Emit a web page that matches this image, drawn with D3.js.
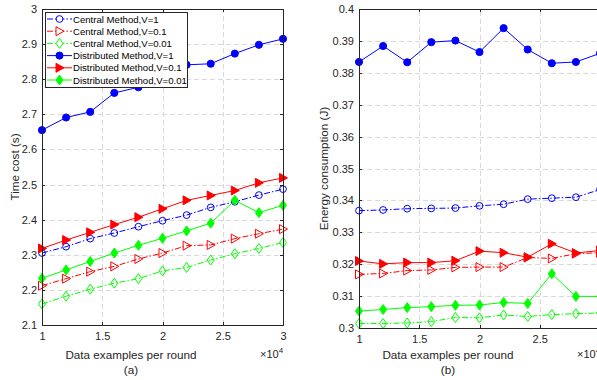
<!DOCTYPE html>
<meta charset="utf-8">
<style>
body { margin: 0; background: #fff; font-family: "Liberation Sans", Arial, sans-serif; }
.axis path, .axis line { fill: none; stroke: #262626; stroke-width: 1; shape-rendering: crispEdges; }
.axis text { fill: #262626; font-size: 11px; }
.grid line { stroke: #d9d9d9; stroke-dasharray: 5,3; shape-rendering: crispEdges; }
.grid path { display: none; }
</style>
<body>
<script src="https://d3js.org/d3.v7.min.js"></script>
<script>

// x values (data examples per round)
var xs = [10000, 12000, 14000, 16000, 18000, 20000, 22000, 24000, 26000, 28000, 30000];

// (a) time cost
var timeCentralV1   = [2.305, 2.323, 2.346, 2.362, 2.380, 2.397, 2.413, 2.435, 2.451, 2.470, 2.487];
var timeCentralV01  = [2.212, 2.232, 2.252, 2.267, 2.288, 2.305, 2.326, 2.328, 2.346, 2.360, 2.373];
var timeCentralV001 = [2.160, 2.182, 2.202, 2.219, 2.232, 2.254, 2.264, 2.285, 2.303, 2.318, 2.335];
var timeDistV1      = [2.655, 2.691, 2.707, 2.761, 2.777, 2.808, 2.841, 2.844, 2.873, 2.898, 2.915];
var timeDistV01     = [2.318, 2.342, 2.364, 2.386, 2.407, 2.431, 2.455, 2.469, 2.483, 2.505, 2.519];
var timeDistV001    = [2.233, 2.257, 2.281, 2.305, 2.327, 2.347, 2.368, 2.390, 2.455, 2.420, 2.441];

// (b) energy consumption
var energyCentralV1   = [0.3368, 0.3370, 0.3374, 0.3375, 0.3376, 0.3383, 0.3388, 0.3404, 0.3407, 0.3410, 0.3434];
var energyCentralV01  = [0.3168, 0.3171, 0.3180, 0.3182, 0.3190, 0.3191, 0.3191, 0.3221, 0.3218, 0.3233, 0.3236];
var energyCentralV001 = [0.3014, 0.3014, 0.3016, 0.3020, 0.3033, 0.3032, 0.3041, 0.3036, 0.3042, 0.3045, 0.3047];
var energyDistV1      = [0.3834, 0.3884, 0.3833, 0.3896, 0.3901, 0.3865, 0.3940, 0.3873, 0.3830, 0.3834, 0.3861];
var energyDistV01     = [0.3210, 0.3201, 0.3205, 0.3205, 0.3211, 0.3241, 0.3236, 0.3222, 0.3264, 0.3235, 0.3243];
var energyDistV001    = [0.3053, 0.3058, 0.3064, 0.3067, 0.3071, 0.3072, 0.3080, 0.3077, 0.3170, 0.3099, 0.3099];

var seriesNames = ["Central Method,V=1", "Central Method,V=0.1", "Central Method,V=0.01",
                   "Distributed Method,V=1", "Distributed Method,V=0.1", "Distributed Method,V=0.01"];
var xTicks = [10000, 15000, 20000, 25000, 30000];
var timeTicks = [2.1, 2.2, 2.3, 2.4, 2.5, 2.6, 2.7, 2.8, 2.9, 3];
var energyTicks = [0.3, 0.31, 0.32, 0.33, 0.34, 0.35, 0.36, 0.37, 0.38, 0.39, 0.4];

// style per series: colour, marker, filled, dashed
var styles = [
    {color: "#0000ff", marker: "circle",   filled: false, dash: "6,2,1.5,2"},
    {color: "#ff0000", marker: "triangle", filled: false, dash: "6,2,1.5,2"},
    {color: "#00ff00", marker: "diamond",  filled: false, dash: "6,2,1.5,2"},
    {color: "#0000ff", marker: "circle",   filled: true,  dash: null},
    {color: "#ff0000", marker: "triangle", filled: true,  dash: null},
    {color: "#00ff00", marker: "diamond",  filled: true,  dash: null}
];

var svg = d3.select("body").append("svg")
    .attr("width", 597)
    .attr("height", 380);

function markerPath(type, filled) {
    if (type === "circle") return d3.symbol(d3.symbolCircle, filled ? 40 : 36)();
    if (type === "triangle") return "M-3.5,-4.5L4.5,0L-3.5,4.5Z";
    return "M0,-5L3.5,0L0,5L-3.5,0Z";
}

function drawPanel(opt) {
    var x = d3.scaleLinear().domain([10000, 30000]).range([opt.left, opt.right]);
    var y = d3.scaleLinear().domain(opt.domain).range([opt.bottom, opt.top]);
    var w = opt.right - opt.left, h = opt.bottom - opt.top;

    var clipId = "clip" + opt.id;
    svg.append("clipPath").attr("id", clipId)
      .append("rect").attr("x", opt.left - 8).attr("y", opt.top - 8)
        .attr("width", w + 16).attr("height", h + 16);

    // grid
    svg.append("g").attr("class", "grid")
        .attr("transform", "translate(0," + opt.bottom + ")")
        .call(d3.axisBottom(x).tickValues(xTicks).tickSize(-h).tickFormat(""));
    svg.append("g").attr("class", "grid")
        .attr("transform", "translate(" + opt.left + ",0)")
        .call(d3.axisLeft(y).tickValues(opt.ticks).tickSize(-w).tickFormat(""));

    // series
    var line = d3.line().x(function(d, i) { return x(xs[i]); }).y(function(d) { return y(d); });
    var plot = svg.append("g").attr("clip-path", "url(#" + clipId + ")");
    opt.series.forEach(function(vals, k) {
        var s = styles[k];
        plot.append("path")
            .attr("d", line(vals))
            .attr("fill", "none")
            .attr("stroke", s.color)
            .attr("stroke-width", 1)
            .attr("stroke-dasharray", s.dash);
        plot.selectAll(null).data(vals).enter().append("path")
            .attr("transform", function(d, i) { return "translate(" + x(xs[i]) + "," + y(d) + ")"; })
            .attr("d", markerPath(s.marker, s.filled))
            .attr("fill", s.filled ? s.color : "none")
            .attr("stroke", s.color)
            .attr("stroke-width", 1);
    });

    // axes box
    svg.append("g").attr("class", "axis")
        .attr("transform", "translate(0," + opt.bottom + ")")
        .call(d3.axisBottom(x).tickValues(xTicks).tickSize(-3).tickPadding(7)
            .tickFormat(function(d) { return d3.format("")(d / 10000); }));
    svg.append("g").attr("class", "axis")
        .attr("transform", "translate(" + opt.left + ",0)")
        .call(d3.axisLeft(y).tickValues(opt.ticks).tickSize(-3).tickPadding(5)
            .tickFormat(d3.format("")));
    svg.append("g").attr("class", "axis")
        .attr("transform", "translate(0," + opt.top + ")")
        .call(d3.axisTop(x).tickValues(xTicks).tickSize(-3).tickFormat(""));
    svg.append("g").attr("class", "axis")
        .attr("transform", "translate(" + opt.right + ",0)")
        .call(d3.axisRight(y).tickValues(opt.ticks).tickSize(-3).tickFormat(""));

    // labels
    var cx = opt.left + 89;
    svg.append("text")
        .attr("x", cx).attr("y", 359)
        .attr("text-anchor", "middle")
        .style("font-size", "11.7px").style("fill", "#262626")
        .text("Data examples per round");
    svg.append("text")
        .attr("x", cx).attr("y", 374)
        .attr("text-anchor", "middle")
        .style("font-size", "11.7px").style("fill", "#262626")
        .text(opt.caption);
    var exp = svg.append("text")
        .attr("x", opt.right - 23).attr("y", 358)
        .style("font-size", "11px").style("fill", "#262626");
    exp.append("tspan").text("\u00d710");
    exp.append("tspan").attr("dy", -5).style("font-size", "8px").text("4");
    svg.append("text")
        .attr("transform", "translate(" + opt.ylabelX + "," + ((opt.top + opt.bottom) / 2) + ") rotate(-90)")
        .attr("text-anchor", "middle")
        .style("font-size", "11.7px").style("fill", "#262626")
        .text(opt.ylabel);
}

drawPanel({
    id: "a", left: 42, right: 283, top: 9, bottom: 325,
    domain: [2.1, 3], ticks: timeTicks,
    series: [timeCentralV1, timeCentralV01, timeCentralV001, timeDistV1, timeDistV01, timeDistV001],
    caption: "(a)", ylabel: "Time cost (s)", ylabelX: 19
});

drawPanel({
    id: "b", left: 359, right: 600, top: 9, bottom: 328,
    domain: [0.3, 0.4], ticks: energyTicks,
    series: [energyCentralV1, energyCentralV01, energyCentralV001, energyDistV1, energyDistV01, energyDistV001],
    caption: "(b)", ylabel: "Energy consumption (J)", ylabelX: 328
});

// legend
var lg = svg.append("g").attr("transform", "translate(45,12)");
lg.append("rect")
    .attr("width", 142).attr("height", 75)
    .attr("fill", "#fff").attr("stroke", "#262626").attr("stroke-width", 1)
    .attr("shape-rendering", "crispEdges");
seriesNames.forEach(function(name, k) {
    var s = styles[k];
    var yy = 7 + k * 12.2;
    lg.append("line")
        .attr("x1", 2).attr("x2", 27).attr("y1", yy).attr("y2", yy)
        .attr("stroke", s.color).attr("stroke-width", 1)
        .attr("stroke-dasharray", s.dash);
    lg.append("path")
        .attr("transform", "translate(14.5," + yy + ")")
        .attr("d", markerPath(s.marker, s.filled))
        .attr("fill", s.filled ? s.color : "#fff")
        .attr("stroke", s.color);
    lg.append("text")
        .attr("x", 28).attr("y", yy + 3.5)
        .style("font-size", "9.6px").style("fill", "#000")
        .text(name);
});

</script>
</body>
